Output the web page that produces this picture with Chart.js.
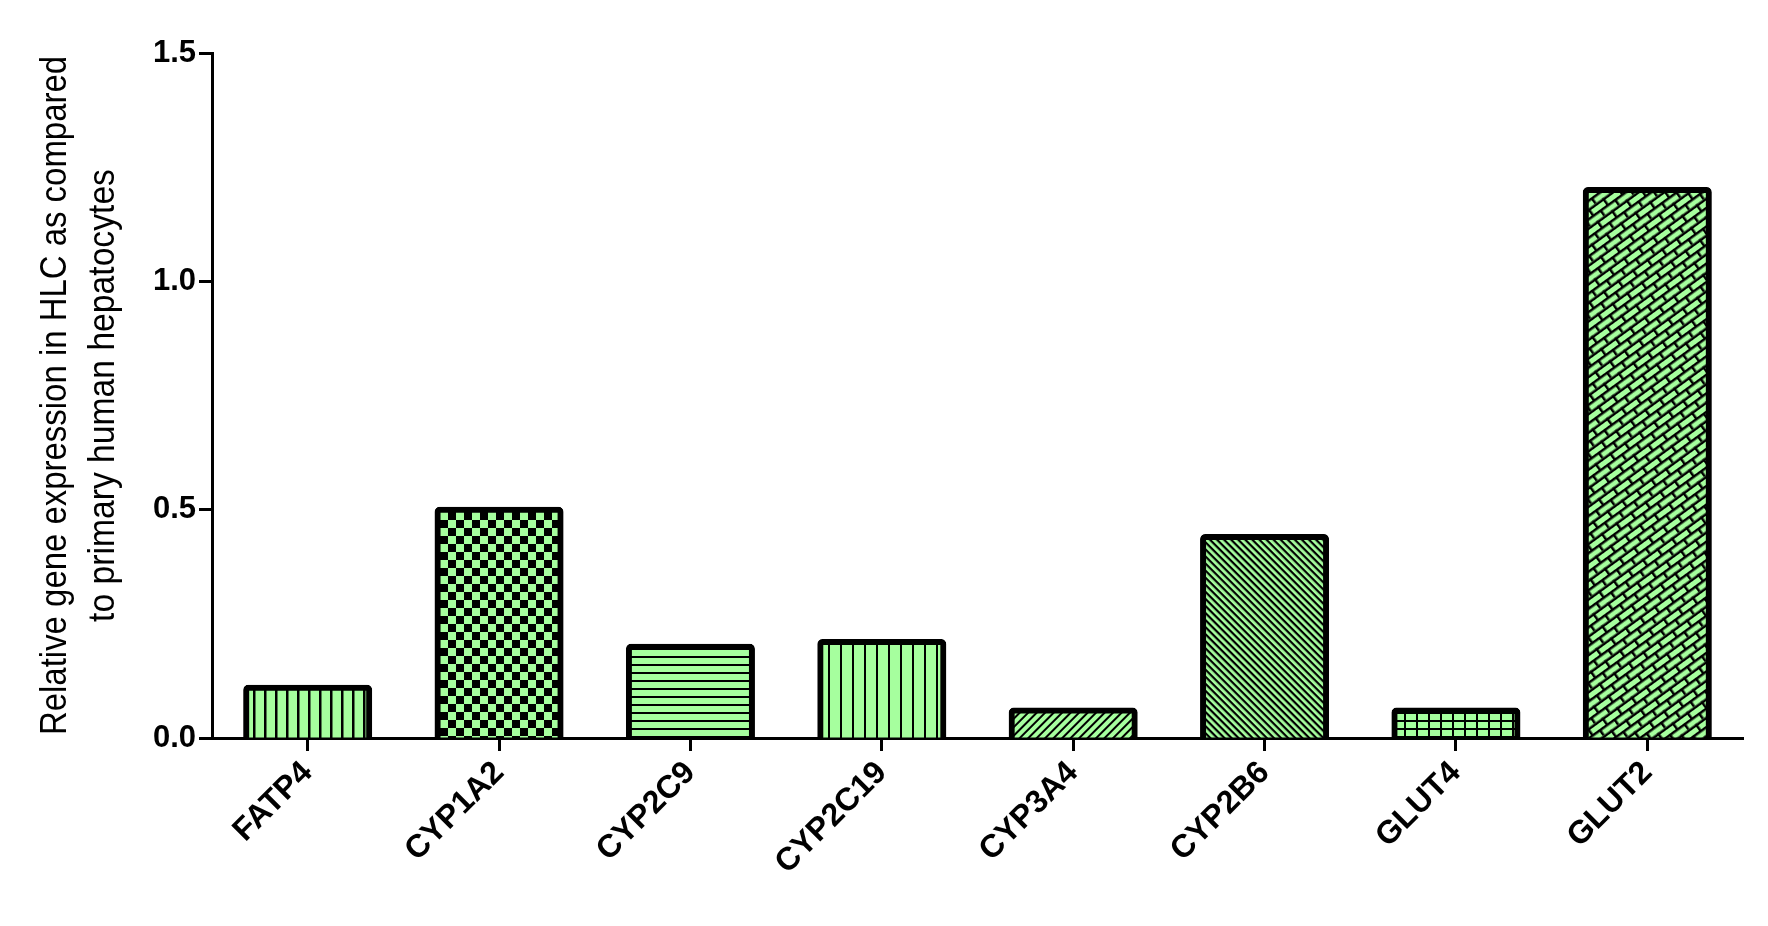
<!DOCTYPE html>
<html>
<head>
<meta charset="utf-8">
<script src="https://cdn.jsdelivr.net/npm/chart.js@4.4.1/dist/chart.umd.min.js"></script>
<style>
  html, body { margin: 0; padding: 0; background: #ffffff; }
  #wrap { width: 1768px; height: 926px; position: relative; }
</style>
</head>
<body>
<div id="wrap"><canvas id="c" width="1768" height="926"></canvas></div>
<script>
// ---- data ----
const categories = ['FATP4', 'CYP1A2', 'CYP2C9', 'CYP2C19', 'CYP3A4', 'CYP2B6', 'GLUT4', 'GLUT2'];
const expressionValues = [0.11, 0.50, 0.20, 0.21, 0.06, 0.44, 0.06, 1.20];
const yTickValues = [0, 0.5, 1.0, 1.5];
const yTitleLines = ['Relative gene expression in HLC as compared', 'to primary human hepatocytes'];

// ---- styles ----
const patternKinds = ['vlinesA', 'checker', 'hlines', 'vlinesB', 'diagUp', 'diagDown', 'grid', 'bricks'];
const GREEN = '#a6ff9e';
const INK = '#000000';

function makePattern(kind) {
  const t = document.createElement('canvas');
  let w = 12, h = 12, angle = 0;
  const draw = (fn) => { t.width = w; t.height = h; const g = t.getContext('2d'); g.fillStyle = GREEN; g.fillRect(0, 0, w, h); g.fillStyle = INK; fn(g); };
  switch (kind) {
    case 'vlinesA': w = 11; h = 4; draw(g => g.fillRect(0, 0, 2.5, h)); break;
    case 'vlinesB': w = 12; h = 4; draw(g => g.fillRect(0, 0, 2, h)); break;
    case 'hlines': w = 4; h = 8; draw(g => g.fillRect(0, 0, w, 2)); break;
    case 'checker': w = 16; h = 16; draw(g => { g.fillRect(0, 0, 8, 8); g.fillRect(8, 8, 8, 8); }); break;
    case 'diagUp': w = 4; h = 6; angle = -45; draw(g => g.fillRect(0, 0, w, 2)); break;
    case 'diagDown': w = 4; h = 5; angle = 45; draw(g => g.fillRect(0, 0, w, 2.2)); break;
    case 'grid': w = 12; h = 8; draw(g => { g.fillRect(0, 0, 2, h); g.fillRect(0, 0, w, 2); }); break;
    case 'bricks': w = 18; h = 15; angle = -36; draw(g => {
        g.fillRect(0, 0, w, 2.5); g.fillRect(0, 7.5, w, 2.5);
        g.fillRect(0, 0, 2.5, 7.5); g.fillRect(9, 7.5, 2.5, 7.5);
      }); break;
  }
  const ctx = document.getElementById('c').getContext('2d');
  const p = ctx.createPattern(t, 'repeat');
  if (angle && p.setTransform) p.setTransform(new DOMMatrix().rotateSelf(angle));
  return p;
}

const fills = patternKinds.map(makePattern);

const FAMILY = '"Liberation Sans", Arial, sans-serif';

// y-axis title drawn as real canvas text (slightly condensed, as in the original figure)
const yTitlePlugin = {
  id: 'yTitle',
  afterDraw(chart) {
    const { ctx, chartArea } = chart;
    const cy = (chartArea.top + chartArea.bottom) / 2;
    const xs = [55.5, 103.5];
    ctx.save();
    ctx.fillStyle = INK;
    ctx.font = '37px ' + FAMILY;
    ctx.textAlign = 'center';
    ctx.textBaseline = 'middle';
    yTitleLines.forEach((line, i) => {
      ctx.save();
      ctx.translate(xs[i], cy);
      ctx.rotate(-Math.PI / 2);
      ctx.scale(i === 0 ? 0.89 : 0.91, 1);
      ctx.fillText(line, 0, 0);
      ctx.restore();
    });
    ctx.restore();
  }
};

new Chart(document.getElementById('c'), {
  type: 'bar',
  data: {
    labels: categories,
    datasets: [{
      data: expressionValues,
      backgroundColor: fills,
      borderColor: INK,
      borderWidth: 6,
      borderSkipped: 'start',
      borderRadius: 5,
      inflateAmount: 3,
      categoryPercentage: 1.0,
      barPercentage: 0.643
    }]
  },
  plugins: [yTitlePlugin],
  options: {
    responsive: false,
    animation: false,
    devicePixelRatio: 1,
    layout: { padding: { top: 53, right: 25, left: 0, bottom: 0 } },
    plugins: { legend: { display: false }, tooltip: { enabled: false }, title: { display: false } },
    scales: {
      x: {
        offset: true,
        grid: { display: true, offset: false, drawOnChartArea: false, drawTicks: true, tickLength: 13, tickWidth: 3, tickColor: INK },
        border: { display: true, color: INK, width: 3 },
        ticks: { color: INK, font: { family: FAMILY, size: 32, weight: 'bold' }, minRotation: 45, maxRotation: 45, padding: 3, autoSkip: false },
        afterFit: (s) => { s.height = 188; }
      },
      y: {
        min: 0, max: 1.5,
        afterBuildTicks: (s) => { s.ticks = yTickValues.map(v => ({ value: v })); },
        grid: { display: true, drawOnChartArea: false, drawTicks: true, tickLength: 13, tickWidth: 3, tickColor: INK },
        border: { display: true, color: INK, width: 3 },
        ticks: { color: INK, font: { family: FAMILY, size: 31, weight: 'bold' }, padding: 3, callback: (v) => Number(v).toFixed(1) },
        title: { display: false },
        afterFit: (s) => { s.width = 212; }
      }
    }
  }
});
</script>
</body>
</html>
